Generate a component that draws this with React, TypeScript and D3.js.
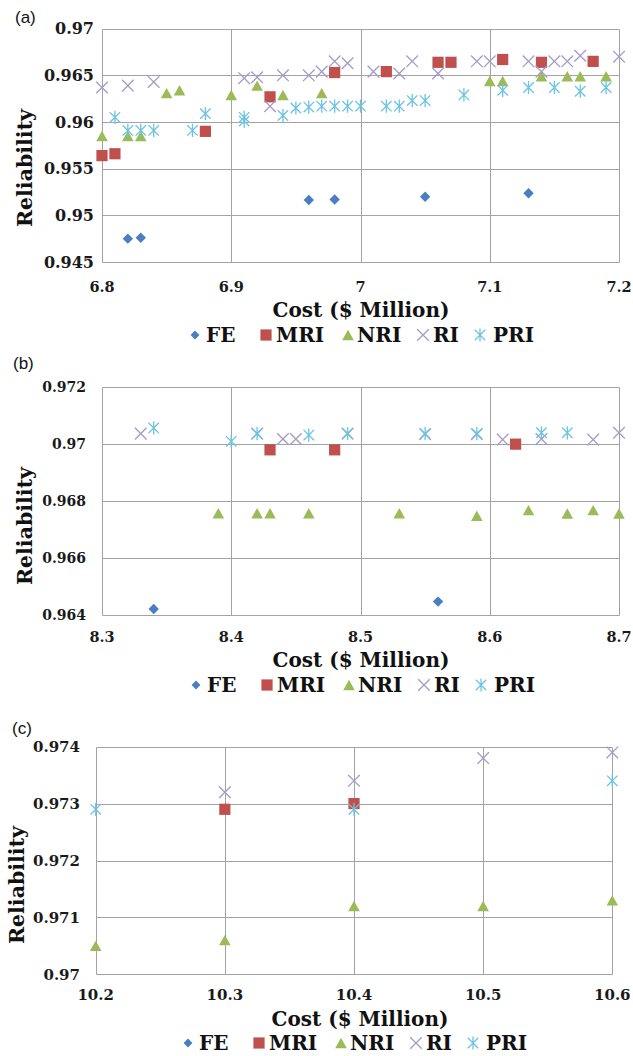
import React from 'react';
import * as d3 from 'd3';

type Pt = [number, number];
type Key = 'FE' | 'MRI' | 'NRI' | 'RI' | 'PRI';

const seriesNames: Key[] = ['FE', 'MRI', 'NRI', 'RI', 'PRI'];
const seriesColors: Record<Key, string> = {
  FE: '#4A7EC3',
  MRI: '#C0504D',
  NRI: '#9BBB59',
  RI: '#A39ACA',
  PRI: '#6CC3E2',
};

// ---------- Panel (a) ----------
const costTicksA = [6.8, 6.9, 7.0, 7.1, 7.2];
const relTicksA = [0.945, 0.95, 0.955, 0.96, 0.965, 0.97];
const FE_A: Pt[] = [[6.82, 0.9475], [6.83, 0.9476], [6.96, 0.95165], [6.98, 0.9517], [7.05, 0.952], [7.13, 0.95236]];
const MRI_A: Pt[] = [[6.8, 0.9564], [6.81, 0.9566], [6.88, 0.959], [6.93, 0.9627], [6.98, 0.9653], [7.02, 0.9654], [7.06, 0.9664], [7.07, 0.9664], [7.11, 0.9667], [7.14, 0.9664], [7.18, 0.9665]];
const NRI_A: Pt[] = [[6.8, 0.9585], [6.82, 0.9585], [6.83, 0.9585], [6.85, 0.9631], [6.86, 0.9634], [6.9, 0.9629], [6.92, 0.9639], [6.94, 0.9629], [6.97, 0.9631], [7.1, 0.9644], [7.11, 0.9644], [7.14, 0.9649], [7.16, 0.9649], [7.17, 0.9649], [7.19, 0.9649]];
const RI_A: Pt[] = [[6.8, 0.9637], [6.82, 0.9639], [6.84, 0.9643], [6.91, 0.9647], [6.92, 0.9648], [6.93, 0.9617], [6.94, 0.965], [6.96, 0.965], [6.97, 0.9654], [6.98, 0.9665], [6.99, 0.9663], [7.01, 0.9654], [7.03, 0.9652], [7.04, 0.9665], [7.06, 0.9652], [7.09, 0.9665], [7.1, 0.9665], [7.13, 0.9665], [7.14, 0.9654], [7.15, 0.9665], [7.16, 0.9665], [7.17, 0.9671], [7.2, 0.967]];
const PRI_A: Pt[] = [[6.81, 0.9605], [6.82, 0.9591], [6.83, 0.9591], [6.84, 0.9591], [6.87, 0.9591], [6.88, 0.9609], [6.91, 0.9605], [6.91, 0.9601], [6.94, 0.9607], [6.95, 0.9615], [6.96, 0.9616], [6.97, 0.9617], [6.98, 0.9617], [6.99, 0.9617], [7.0, 0.9617], [7.02, 0.9617], [7.03, 0.9617], [7.04, 0.9623], [7.05, 0.9623], [7.08, 0.9629], [7.11, 0.9634], [7.13, 0.9637], [7.15, 0.9637], [7.17, 0.9633], [7.19, 0.9637]];

// ---------- Panel (b) ----------
const costTicksB = [8.3, 8.4, 8.5, 8.6, 8.7];
const relTicksB = [0.964, 0.966, 0.968, 0.97, 0.972];
const FE_B: Pt[] = [[8.34, 0.9642], [8.56, 0.96446]];
const MRI_B: Pt[] = [[8.43, 0.9698], [8.48, 0.9698], [8.62, 0.97]];
const NRI_B: Pt[] = [[8.39, 0.96757], [8.42, 0.96757], [8.43, 0.96757], [8.46, 0.96757], [8.53, 0.96757], [8.59, 0.96748], [8.63, 0.96768], [8.66, 0.96756], [8.68, 0.96768], [8.7, 0.96756]];
const RI_B: Pt[] = [[8.33, 0.97037], [8.42, 0.97037], [8.44, 0.97018], [8.45, 0.97018], [8.49, 0.97037], [8.55, 0.97035], [8.59, 0.97035], [8.61, 0.97016], [8.64, 0.97018], [8.68, 0.97016], [8.7, 0.9704]];
const PRI_B: Pt[] = [[8.34, 0.97057], [8.4, 0.9701], [8.42, 0.97037], [8.46, 0.97032], [8.49, 0.97037], [8.55, 0.97037], [8.59, 0.97037], [8.64, 0.9704], [8.66, 0.9704]];

// ---------- Panel (c) ----------
const costTicksC = [10.2, 10.3, 10.4, 10.5, 10.6];
const relTicksC = [0.97, 0.971, 0.972, 0.973, 0.974];
const FE_C: Pt[] = [];
const MRI_C: Pt[] = [[10.3, 0.9729], [10.4, 0.973]];
const NRI_C: Pt[] = [[10.2, 0.9705], [10.3, 0.9706], [10.4, 0.9712], [10.5, 0.9712], [10.6, 0.9713]];
const RI_C: Pt[] = [[10.3, 0.9732], [10.4, 0.9734], [10.5, 0.9738], [10.6, 0.9739]];
const PRI_C: Pt[] = [[10.2, 0.9729], [10.4, 0.9729], [10.6, 0.9734]];

const panelLetters = ['(a)', '(b)', '(c)'];
const xTitle = 'Cost ($ Million)';
const yTitle = 'Reliability';

const SERIF = '"DejaVu Serif", serif';
const SANS = '"Liberation Sans", Arial, sans-serif';
const GRID = '#A3A3A3';

interface Layout {
  l: number; r: number; t: number; b: number;
  letterY: number; letterX: number;
  yTickRight: number; yTickSize: number;
  xTickY: number; xTickSize: number;
  titleY: number; titleX: number;
  yLabX: number; yLabY: number;
  legendX0: number; legendY: number;
}

const layouts: Layout[] = [
  { l: 102, r: 619, t: 28.7, b: 262, letterX: 15, letterY: 23, yTickRight: 94, yTickSize: 16, xTickY: 292, xTickSize: 14.5, titleY: 317, titleX: 361, yLabX: 32, yLabY: 168, legendX0: 195, legendY: 342 },
  { l: 102, r: 619, t: 387.3, b: 614.7, letterX: 13, letterY: 369, yTickRight: 86, yTickSize: 14, xTickY: 642, xTickSize: 14.5, titleY: 667, titleX: 361, yLabX: 32, yLabY: 526, legendX0: 196, legendY: 692 },
  { l: 95.7, r: 612.3, t: 746.7, b: 974.3, letterX: 12, letterY: 734, yTickRight: 80, yTickSize: 15, xTickY: 1000, xTickSize: 15, titleY: 1026, titleX: 360, yLabX: 24, yLabY: 885, legendX0: 188, legendY: 1050 },
];

const panelsData: { xTicks: number[]; yTicks: number[]; data: Record<Key, Pt[]> }[] = [
  { xTicks: costTicksA, yTicks: relTicksA, data: { FE: FE_A, MRI: MRI_A, NRI: NRI_A, RI: RI_A, PRI: PRI_A } },
  { xTicks: costTicksB, yTicks: relTicksB, data: { FE: FE_B, MRI: MRI_B, NRI: NRI_B, RI: RI_B, PRI: PRI_B } },
  { xTicks: costTicksC, yTicks: relTicksC, data: { FE: FE_C, MRI: MRI_C, NRI: NRI_C, RI: RI_C, PRI: PRI_C } },
];

// legend offsets relative to legend start (marker x, text x)
const legendMarkerOff = [0, 71, 153, 228, 285];
const legendTextOff = [11, 81, 162, 238, 298];

const fmt = d3.format('~g');

function Marker({ type, x, y, s = 1 }: { type: Key; x: number; y: number; s?: number }) {
  const c = seriesColors[type];
  switch (type) {
    case 'FE': {
      const h = 5.2 * s;
      return <path d={`M${x},${y - h}L${x + h},${y}L${x},${y + h}L${x - h},${y}Z`} fill={c} />;
    }
    case 'MRI': {
      const h = 5.6 * s;
      return <rect x={x - h} y={y - h} width={2 * h} height={2 * h} fill={c} />;
    }
    case 'NRI': {
      const w = 5.8 * s, h = 5.2 * s;
      return <path d={`M${x},${y - h}L${x + w},${y + h}L${x - w},${y + h}Z`} fill={c} />;
    }
    case 'RI': {
      const h = 5.8 * s;
      return (
        <path
          d={`M${x - h},${y - h}L${x + h},${y + h}M${x - h},${y + h}L${x + h},${y - h}`}
          stroke={c}
          strokeWidth={1.3}
          fill="none"
        />
      );
    }
    case 'PRI': {
      const w = 5.2 * s, h = 5.2 * s, v = 6.6 * s;
      return (
        <path
          d={`M${x - w},${y - h}L${x + w},${y + h}M${x - w},${y + h}L${x + w},${y - h}M${x},${y - v}L${x},${y + v}`}
          stroke={c}
          strokeWidth={1.3}
          fill="none"
        />
      );
    }
  }
  return null;
}

function Panel({ idx }: { idx: number }) {
  const L = layouts[idx];
  const P = panelsData[idx];
  const xs = d3.scaleLinear().domain(d3.extent(P.xTicks) as [number, number]).range([L.l, L.r]);
  const ys = d3.scaleLinear().domain(d3.extent(P.yTicks) as [number, number]).range([L.b, L.t]);
  const crisp = (v: number) => Math.round(v) + 0.5;
  const legendCY = L.legendY - 7;
  return (
    <g>
      <text x={L.letterX} y={L.letterY} fontFamily={SANS} fontSize={17} fill="#111">
        {panelLetters[idx]}
      </text>
      {/* grid */}
      {P.yTicks.map((t) => (
        <line key={'gy' + t} x1={crisp(L.l)} x2={crisp(L.r)} y1={crisp(ys(t))} y2={crisp(ys(t))} stroke={GRID} strokeWidth={1} />
      ))}
      {P.xTicks.map((t) => (
        <line key={'gx' + t} x1={crisp(xs(t))} x2={crisp(xs(t))} y1={crisp(L.t)} y2={crisp(L.b)} stroke={GRID} strokeWidth={1} />
      ))}
      {/* y tick labels */}
      {P.yTicks.map((t) => (
        <text key={'yl' + t} x={L.yTickRight} y={ys(t)} dy="0.36em" textAnchor="end" fontFamily={SERIF} fontWeight="bold" fontSize={L.yTickSize} fill="#1a1a1a">
          {fmt(t)}
        </text>
      ))}
      {/* x tick labels */}
      {P.xTicks.map((t) => (
        <text key={'xl' + t} x={xs(t)} y={L.xTickY} textAnchor="middle" fontFamily={SERIF} fontWeight="bold" fontSize={L.xTickSize} fill="#1a1a1a">
          {fmt(t)}
        </text>
      ))}
      {/* axis titles */}
      <text x={L.titleX} y={L.titleY} textAnchor="middle" fontFamily={SERIF} fontWeight="bold" fontSize={20} fill="#111">
        {xTitle}
      </text>
      <text transform={`translate(${L.yLabX},${L.yLabY}) rotate(-90)`} textAnchor="middle" fontFamily={SERIF} fontWeight="bold" fontSize={20.5} fill="#111">
        {yTitle}
      </text>
      {/* points */}
      {seriesNames.map((k) => (
        <g key={k}>
          {P.data[k].map((d, i) => (
            <Marker key={i} type={k} x={xs(d[0])} y={ys(d[1])} />
          ))}
        </g>
      ))}
      {/* legend */}
      {seriesNames.map((k, i) => (
        <g key={'lg' + k}>
          <Marker type={k} x={L.legendX0 + legendMarkerOff[i]} y={legendCY} s={k === 'FE' ? 0.85 : 1} />
          <text x={L.legendX0 + legendTextOff[i]} y={L.legendY} fontFamily={SERIF} fontWeight="bold" fontSize={20} fill="#111">
            {k}
          </text>
        </g>
      ))}
    </g>
  );
}

export default function App() {
  return (
    <svg
      width={633}
      height={1056}
      viewBox="0 0 633 1056"
      style={{ position: 'absolute', left: 0, top: 0, background: '#fff' }}
    >
      <rect x={0} y={0} width={633} height={1056} fill="#fff" />
      {[0, 1, 2].map((i) => (
        <Panel key={i} idx={i} />
      ))}
    </svg>
  );
}
